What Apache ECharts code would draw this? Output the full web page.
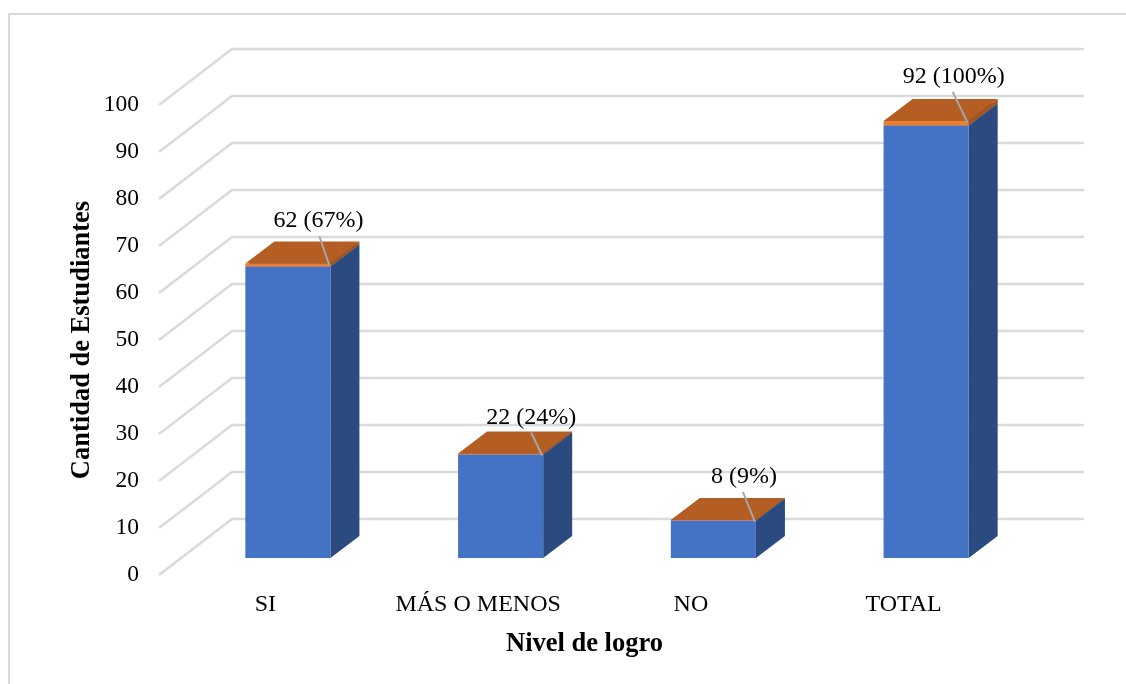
<!DOCTYPE html>
<html>
<head>
<meta charset="utf-8">
<title>Nivel de logro</title>
<script src="https://cdn.jsdelivr.net/npm/echarts@6/dist/echarts.min.js"></script>
<style>
html,body{margin:0;padding:0;background:#fff;}
#main{width:1126px;height:684px;}
</style>
</head>
<body>
<div id="main"></div>
<script>
var categories = ["SI", "MÁS O MENOS", "NO", "TOTAL"];
var students = [62, 22, 8, 92];
var shares = [0.67, 0.24, 0.09, 1];
var wallTicks = [0, 10, 20, 30, 40, 50, 60, 70, 80, 90, 100];

var serif = '"Liberation Serif", "Times New Roman", serif';
var wallDx = 73, wallDy = 56;     // front plane -> back wall
var barDx = 22.5, barDy = 17;     // front plane -> bar front face
var depthDx = 29, depthDy = 22;   // bar depth
// where each data label sits, measured from the bar's top right corner
var labelShift = [[-12, -43], [-12, -36], [-12, -43], [-15, -44]];
var leaderTop = [[-11, -27], [-12, -21], [-13, -28], [-16, -29]];

function renderWall(params, api) {
	var p = api.coord([0, api.value(0)]);
	var cs = params.coordSys;
	return {
		type: "polyline",
		shape: {points: [[cs.x, p[1]], [cs.x + wallDx, p[1] - wallDy], [cs.x + cs.width + wallDx + 1, p[1] - wallDy]]},
		style: {stroke: "#dadada", lineWidth: 2.5, fill: null}
	};
}

function boxRenderer(front, side, top) {
	return function (params, api) {
		var i = api.value(0);
		var bottom = api.coord([i, api.value(1)]);
		var upper = api.coord([i, api.value(2)]);
		var w = api.size([1, 0])[0] * 0.4;
		var l = bottom[0] + barDx - w / 2, r = l + w;
		var b = bottom[1] - barDy, t = upper[1] - barDy;
		return {
			type: "group",
			children: [
				{type: "polygon", shape: {points: [[l, t], [r, t], [r + depthDx, t - depthDy], [l + depthDx, t - depthDy]]}, style: {fill: top}},
				{type: "polygon", shape: {points: [[r, b], [r, t], [r + depthDx, t - depthDy], [r + depthDx, b - depthDy]]}, style: {fill: side}},
				{type: "rect", shape: {x: l, y: t, width: w, height: b - t}, style: {fill: front}}
			]
		};
	};
}

function renderLabel(params, api) {
	var i = api.value(0);
	var p = api.coord([i, api.value(1)]);
	var w = api.size([1, 0])[0] * 0.4;
	var r = p[0] + barDx + w / 2, t = p[1] - barDy;
	return {
		type: "group",
		children: [
			{type: "line", shape: {x1: r + leaderTop[i][0], y1: t + leaderTop[i][1], x2: r - 1, y2: t + 2}, style: {stroke: "#a6a6a6", lineWidth: 2}},
			{type: "text", x: r + labelShift[i][0], y: t + labelShift[i][1], style: {
				text: students[i] + " (" + Math.round(shares[i] * 100) + "%)",
				font: "24px " + serif, fill: "#000", align: "center", verticalAlign: "middle"
			}}
		]
	};
}

var chart = echarts.init(document.getElementById("main"));
chart.setOption({
	animation: false,
	backgroundColor: "#fff",
	grid: {left: 159, top: 105, width: 851, height: 470},
	graphic: [{
		type: "polyline", z: -1, silent: true,
		shape: {points: [[9, 684], [9, 14], [1126, 14]]},
		style: {fill: null, stroke: "#d9d9d9", lineWidth: 2}
	}],
	xAxis: {
		type: "category",
		data: categories,
		name: "Nivel de logro",
		nameLocation: "middle",
		nameGap: 56,
		nameMoveOverlap: false,
		nameTextStyle: {fontFamily: serif, fontSize: 26.5, fontWeight: "bold", color: "#000"},
		axisLine: {show: false},
		axisTick: {show: false},
		axisLabel: {fontFamily: serif, fontSize: 24, color: "#000", margin: 18, interval: 0}
	},
	yAxis: {
		type: "value",
		min: 0,
		max: 100,
		interval: 10,
		name: "Cantidad de Estudiantes",
		nameLocation: "middle",
		nameGap: 63,
		nameMoveOverlap: false,
		nameTextStyle: {fontFamily: serif, fontSize: 26.5, fontWeight: "bold", color: "#000"},
		axisLine: {show: false},
		axisTick: {show: false},
		splitLine: {show: false},
		axisLabel: {fontFamily: serif, fontSize: 23.5, color: "#000", margin: 20, padding: [3, 0, 0, 0]}
	},
	series: [
		{type: "custom", z: 1, coordinateSystem: "cartesian2d", data: wallTicks.map(function (v) { return [v]; }), encode: {y: 0}, renderItem: renderWall},
		{type: "custom", z: 2, data: students.map(function (v, i) { return [i, 0, v]; }), encode: {x: 0, y: 2}, renderItem: boxRenderer("#4472c4", "#2a4a80", "#2a4a80")},
		{type: "custom", z: 3, data: students.map(function (v, i) { return [i, v, v + shares[i]]; }), encode: {x: 0, y: 2}, renderItem: boxRenderer("#ed7d31", "#a4551f", "#b55e23")},
		{type: "custom", z: 4, data: students.map(function (v, i) { return [i, v + shares[i]]; }), encode: {x: 0, y: 1}, renderItem: renderLabel}
	]
});
</script>
</body>
</html>
